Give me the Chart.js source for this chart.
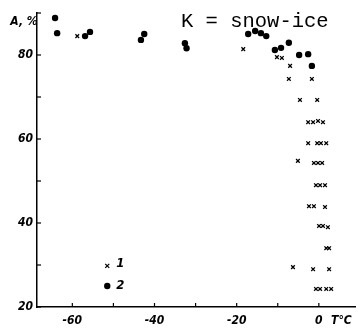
<!DOCTYPE html>
<html>
<head>
<meta charset="utf-8">
<script src="https://cdn.jsdelivr.net/npm/chart.js@4/dist/chart.umd.min.js"></script>
<style>
  html, body { margin: 0; padding: 0; background: #fff; }
  canvas { display: block; }
</style>
</head>
<body>
<canvas id="chart" width="361" height="330"></canvas>
<script>
// series 1 (crosses): temperature, albedo
const crossT = [-58.8, -18.4, -10.2, -9.0, -7.0, -7.3, -1.7, -4.6, -0.4,
  -2.6, -1.4, -0.2, 1.0, -2.6, -0.4, 0.5, 1.8, -5.1, -1.2, -0.2, 0.8,
  -0.7, 0.3, 1.5, -2.4, -1.2, 1.5, 0.05, 1.0, 2.2, 1.8, 2.5,
  -6.3, -1.4, 2.5, -0.7, 0.3, 1.8, 3.0];
const crossA = [84.5, 81.4, 79.5, 79.3, 77.4, 74.3, 74.3, 69.3, 69.3,
  64.0, 64.0, 64.3, 64.0, 59.0, 59.0, 59.0, 59.0, 54.8, 54.3, 54.3, 54.3,
  49.0, 49.0, 49.0, 44.0, 44.0, 43.8, 39.3, 39.3, 39.0, 34.0, 34.0,
  29.5, 29.0, 29.0, 24.3, 24.3, 24.3, 24.3];

// series 2 (dots)
const dotT = [-64.2, -63.7, -56.9, -55.7, -43.3, -42.5, -32.6, -32.2,
  -17.2, -15.5, -14.1, -12.8, -10.7, -9.2, -7.3, -4.8, -2.6, -1.7];
const dotA = [88.8, 85.2, 84.5, 85.5, 83.6, 85.0, 82.8, 81.6,
  85.0, 85.7, 85.2, 84.5, 81.2, 81.7, 82.9, 80.0, 80.2, 77.4];

const xTicks = [-60, -50, -40, -30, -20, -10, 0, 5.5];
const xLabels = {'-60': '-60', '-40': '-40', '-20': '-20', '0': '0', '5.5': 'T°C'};
const yLabels = [20, 40, 60, 80];
const titleText = 'K = snow-ice';
const axisLabel = 'A, %';
const legendItems = ['1', '2'];

const tickFont = { family: '"DejaVu Sans Condensed", "DejaVu Sans"', size: 12, style: 'italic', weight: 'bold' };

const pts = (xs, ys) => xs.map((x, i) => ({ x: x, y: ys[i] }));

// inward tick marks, legend and labels drawn on top
const extras = {
  id: 'extras',
  afterDatasetsDraw(chart) {
    const ctx = chart.ctx;
    const xs = chart.scales.x, ys = chart.scales.y;
    ctx.save();
    ctx.strokeStyle = '#000';
    ctx.lineWidth = 1.2;
    xs.ticks.forEach(t => {
      if (t.value > 1) return;
      const px = xs.getPixelForValue(t.value);
      ctx.beginPath(); ctx.moveTo(px, ys.bottom); ctx.lineTo(px, ys.bottom - 4); ctx.stroke();
    });
    ys.ticks.forEach(t => {
      const py = ys.getPixelForValue(t.value);
      ctx.beginPath(); ctx.moveTo(xs.left, py); ctx.lineTo(xs.left + 4, py); ctx.stroke();
    });

    // legend inside the plot
    const lx = xs.getPixelForValue(-51.5);
    const l1 = ys.getPixelForValue(29.8), l2 = ys.getPixelForValue(25.0);
    ctx.lineWidth = 1.3;
    ctx.beginPath();
    ctx.moveTo(lx - 2, l1 - 2); ctx.lineTo(lx + 2, l1 + 2);
    ctx.moveTo(lx + 2, l1 - 2); ctx.lineTo(lx - 2, l1 + 2);
    ctx.stroke();
    ctx.beginPath(); ctx.arc(lx, l2, 3.2, 0, Math.PI * 2); ctx.fillStyle = '#000'; ctx.fill();
    ctx.font = 'italic bold 13px "DejaVu Sans Condensed", "DejaVu Sans"';
    ctx.textBaseline = 'middle';
    ctx.textAlign = 'left';
    ctx.fillText(legendItems[0], lx + 9, l1 - 2);
    ctx.fillText(legendItems[1], lx + 9, l2);

    // y axis name
    ctx.font = 'italic bold 12px "DejaVu Sans Condensed", "DejaVu Sans"';
    ctx.textAlign = 'center';
    ctx.fillText(axisLabel, 24, 22);

    // title
    ctx.font = '20.5px "Liberation Mono"';
    ctx.textAlign = 'left';
    ctx.textBaseline = 'alphabetic';
    ctx.fillText(titleText, 181, 27);
    ctx.restore();
  }
};

new Chart(document.getElementById('chart'), {
  type: 'scatter',
  data: {
    datasets: [
      {
        label: '1',
        data: pts(crossT, crossA),
        pointStyle: 'crossRot',
        pointRadius: 2.6,
        borderColor: '#000',
        borderWidth: 1.3,
      },
      {
        label: '2',
        data: pts(dotT, dotA),
        pointStyle: 'circle',
        pointRadius: 3.2,
        backgroundColor: '#000',
        borderColor: '#000',
        borderWidth: 0,
      },
    ],
  },
  options: {
    responsive: false,
    devicePixelRatio: 1,
    animation: false,
    layout: { padding: { top: 13, right: 6, left: 0, bottom: 0 } },
    plugins: { legend: { display: false }, tooltip: { enabled: false } },
    scales: {
      x: {
        type: 'linear',
        min: -68.6,
        max: 8.8,
        afterBuildTicks: (s) => { s.ticks = xTicks.map(v => ({ value: v })); },
        afterFit: (s) => { s.height = 23; },
        border: { color: '#000', width: 1.5 },
        grid: { display: true, drawOnChartArea: false, drawTicks: false },
        ticks: {
          color: '#000',
          font: tickFont,
          padding: 7,
          autoSkip: false,
          maxRotation: 0,
          callback: (v) => xLabels[String(v)] || '',
        },
      },
      y: {
        min: 20,
        max: 90,
        ticks: {
          stepSize: 10,
          color: '#000',
          font: tickFont,
          padding: 4,
          callback: (v) => yLabels.includes(v) ? String(v) : '',
        },
        afterFit: (s) => { s.width = 37; },
        border: { color: '#000', width: 1.5 },
        grid: { display: true, drawOnChartArea: false, drawTicks: false },
      },
    },
  },
  plugins: [extras],
});
</script>
</body>
</html>
